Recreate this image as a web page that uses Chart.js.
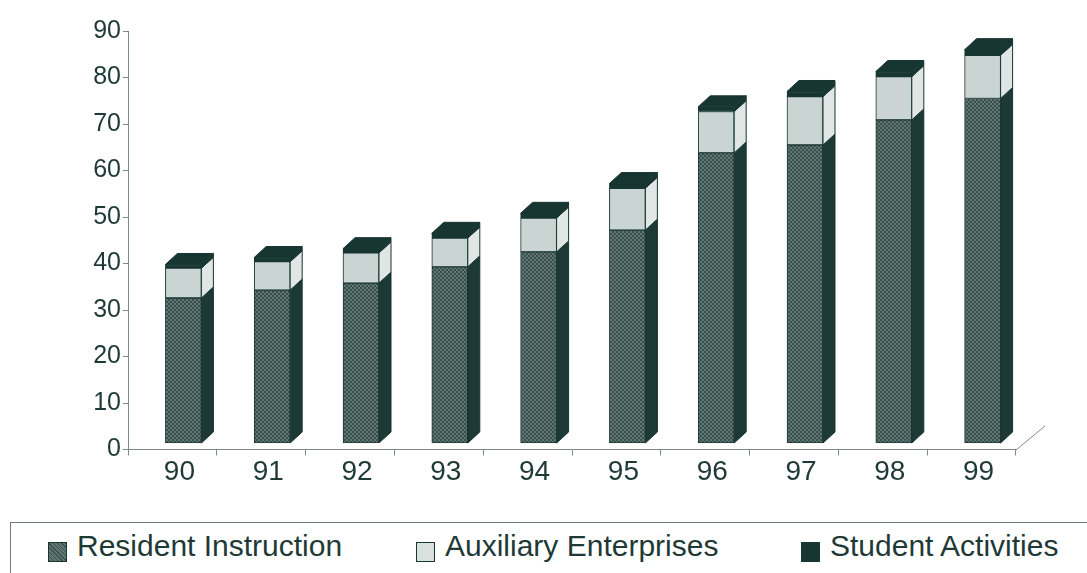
<!DOCTYPE html>
<html lang="en">
<head>
  <meta charset="UTF-8" />
  <title>Funding by source, 90–99</title>
  <script src="https://cdn.jsdelivr.net/npm/chart.js"></script>
  <style>
    body{margin:0;background:#fff;font-family:"Liberation Sans",Arial,sans-serif;color:#1f3a36;}
    #wrap{position:relative;width:1087px;height:573px;overflow:hidden;}
    canvas{position:absolute;left:0;top:0;}
    .legend{position:absolute;left:10px;top:522px;width:1100px;height:80px;border-top:1px solid #6f7d7a;border-left:1px solid #6f7d7a;}
    .item{position:absolute;top:6px;display:flex;align-items:center;font-size:30px;white-space:nowrap;}
    .swatch{width:17px;height:18px;border:1px solid #183632;margin-right:10px;margin-top:12px;}
  </style>
</head>
<body>
<div id="wrap">
  <canvas id="chart" width="1087" height="512"></canvas>
  <div class="legend" id="legend"></div>
</div>
<script>
// ── data ────────────────────────────────────────────────────────────────
const years     = ['90','91','92','93','94','95','96','97','98','99'];
const resident  = [31.3, 33.0, 34.5, 38.0, 41.2, 45.9, 62.5, 64.2, 69.6, 74.2];
const auxiliary = [6.4, 6.1, 6.5, 6.2, 7.3, 9.0, 8.9, 10.4, 9.3, 9.3];
const student   = [0.8, 0.9, 0.9, 1.0, 1.0, 1.0, 1.0, 1.1, 1.1, 1.2];
const seriesNames = ['Resident Instruction','Auxiliary Enterprises','Student Activities'];
const yTicks    = [0,10,20,30,40,50,60,70,80,90];

// ── look ────────────────────────────────────────────────────────────────
const INK = '#1f3a36', EDGE = '#183632', AXIS = '#7d8a88';
const DX = 12, DY = 11;          // bar depth
const SHIFT_X = 11, SHIFT_Y = -6; // bars stand mid-way into the floor
const legendLeft = [37, 405, 790];

function hatch(){
  const c = document.createElement('canvas');
  c.width = c.height = 4;
  const g = c.getContext('2d');
  g.fillStyle = '#617673'; g.fillRect(0,0,4,4);
  g.fillStyle = '#3a504d';
  for(let i=0;i<4;i++){ g.fillRect(i,i,1,1); g.fillRect(3-i,i,1,1); }
  return g.createPattern(c,'repeat');
}
const frontFill = [hatch(), '#cad4d2', '#173531'];
const sideFill  = ['#1d3935', '#dfe6e4', '#173531'];
const topFill   = '#173531';

// side and top faces, worked out from each bar element
const depth = {
  id:'depth',
  beforeDatasetsDraw(chart){ chart.ctx.save(); chart.ctx.translate(SHIFT_X, SHIFT_Y); },
  afterDatasetsDraw(chart){
    const ctx = chart.ctx, last = chart.data.datasets.length - 1;
    ctx.lineWidth = 1; ctx.strokeStyle = EDGE; ctx.lineJoin = 'round';
    chart.data.datasets.forEach((ds, i) => {
      chart.getDatasetMeta(i).data.forEach(bar => {
        const {x, y, base, width} = bar.getProps(['x','y','base','width'], true);
        const l = x - width/2, r = x + width/2;
        ctx.beginPath();
        ctx.moveTo(r, y); ctx.lineTo(r+DX, y-DY); ctx.lineTo(r+DX, base-DY); ctx.lineTo(r, base);
        ctx.closePath(); ctx.fillStyle = sideFill[i]; ctx.fill(); ctx.stroke();
        if(i === last){
          ctx.beginPath();
          ctx.moveTo(l, y); ctx.lineTo(l+DX, y-DY); ctx.lineTo(r+DX, y-DY); ctx.lineTo(r, y);
          ctx.closePath(); ctx.fillStyle = topFill; ctx.fill(); ctx.stroke();
        }
      });
    });
    ctx.restore();
  },
  afterDraw(chart){
    // receding edge of the floor
    const {right, bottom} = chart.chartArea, ctx = chart.ctx;
    ctx.save(); ctx.strokeStyle = AXIS; ctx.lineWidth = 1;
    ctx.beginPath(); ctx.moveTo(right, bottom+0.5); ctx.lineTo(right+29, bottom-23.5); ctx.stroke();
    ctx.restore();
  }
};

new Chart(document.getElementById('chart'), {
  type:'bar',
  data:{
    labels: years,
    datasets: [resident, auxiliary, student].map((d, i) => ({
      label: seriesNames[i], data: d, backgroundColor: frontFill[i],
      borderColor: EDGE, borderWidth: 1, borderSkipped: false,
      barThickness: 36
    }))
  },
  options:{
    responsive:false, animation:false,
    layout:{padding:{top:31, right:71, left:0, bottom:0}},
    plugins:{legend:{display:false}, tooltip:{enabled:false}},
    scales:{
      x:{
        stacked:true,
        afterFit: s => { s.height = 512 - 449.5; },
        grid:{offset:true, drawOnChartArea:false, tickLength:6, color:AXIS},
        border:{color:AXIS},
        ticks:{color:INK, font:{family:'"Liberation Sans", Arial', size:28}, padding:0, labelOffset:7}
      },
      y:{
        stacked:true, min:0, max:90,
        afterFit: s => { s.width = 128; },
        afterBuildTicks: s => { s.ticks = yTicks.map(v => ({value:v})); },
        grid:{drawOnChartArea:false, tickLength:5, color:AXIS},
        border:{color:AXIS},
        ticks:{color:INK, font:{family:'"Liberation Sans", Arial', size:25}, padding:2}
      }
    }
  },
  plugins:[depth]
});

// legend box underneath
const legend = document.getElementById('legend');
seriesNames.forEach((name, i) => {
  const item = document.createElement('div');
  item.className = 'item';
  item.style.left = legendLeft[i] + 'px';
  const sw = document.createElement('span');
  sw.className = 'swatch';
  sw.style.background = i === 0
    ? 'repeating-linear-gradient(45deg,#3a504d 0 1px,#617673 1px 3px),#617673'
    : i === 1 ? '#d9e1df' : frontFill[i];
  item.appendChild(sw);
  item.appendChild(document.createTextNode(name));
  legend.appendChild(item);
});
</script>
</body>
</html>
